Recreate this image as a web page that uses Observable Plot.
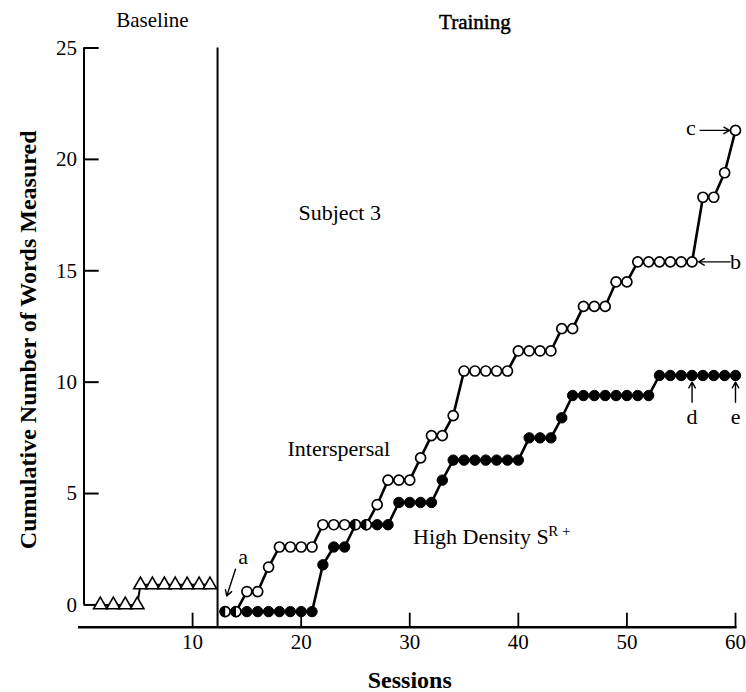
<!DOCTYPE html>
<html>
<head>
<meta charset="utf-8">
<script src="https://cdn.jsdelivr.net/npm/d3@7"></script>
<script src="https://cdn.jsdelivr.net/npm/@observablehq/plot@0.6"></script>
<style>
  body { margin: 0; background: #fff; }
</style>
</head>
<body>
<div id="chart"></div>
<script>
// Baseline phase (open triangles)
const baselineSessions = [1.5, 2.7, 3.8, 4.9, 5.2, 6.3, 7.4, 8.4, 9.5, 10.6, 11.6];
const baselineWords    = [0, 0, 0, 0, 0.9, 0.9, 0.9, 0.9, 0.9, 0.9, 0.9];

// Training phase sessions
const trainingSessions = [13, 14, 15, 16, 17, 18, 19, 20, 21, 22, 23, 24, 25, 26, 27, 28,
  29, 30, 31, 32, 33, 34, 35, 36, 37, 38, 39, 40, 41, 42, 43, 44, 45, 46, 47, 48, 49, 50,
  51, 52, 53, 54, 55, 56, 57, 58, 59, 60];

// Interspersal condition (open circles)
const interspersal = [-0.3, -0.3, 0.6, 0.6, 1.7, 2.6, 2.6, 2.6, 2.6, 3.6, 3.6, 3.6, 3.6, 3.6,
  4.5, 5.6, 5.6, 5.6, 6.6, 7.6, 7.6, 8.5, 10.5, 10.5, 10.5, 10.5, 10.5, 11.4, 11.4, 11.4, 11.4,
  12.4, 12.4, 13.4, 13.4, 13.4, 14.5, 14.5, 15.4, 15.4, 15.4, 15.4, 15.4, 15.4, 18.3, 18.3,
  19.4, 21.3];

// High density SR+ condition (filled circles)
const highDensity = [-0.3, -0.3, -0.3, -0.3, -0.3, -0.3, -0.3, -0.3, -0.3, 1.8, 2.6, 2.6,
  3.6, 3.6, 3.6, 3.6, 4.6, 4.6, 4.6, 4.6, 5.6, 6.5, 6.5, 6.5, 6.5, 6.5, 6.5, 6.5, 7.5, 7.5,
  7.5, 8.4, 9.4, 9.4, 9.4, 9.4, 9.4, 9.4, 9.4, 9.4, 10.3, 10.3, 10.3, 10.3, 10.3, 10.3,
  10.3, 10.3];

const xTicks = [10, 20, 30, 40, 50, 60];
const yTicks = [0, 5, 10, 15, 20, 25];
const phaseChange = 12.3;

const serif = "'Liberation Serif', 'Times New Roman', serif";

const baseline = baselineSessions.map((s, i) => ({session: s, words: baselineWords[i]}));
const openPts = trainingSessions.map((s, i) => ({session: s, words: interspersal[i]}));
const filledPts = trainingSessions.map((s, i) => ({session: s, words: highDensity[i]}));
// sessions where both conditions share a value are drawn half filled
const shared = openPts.filter((d, i) => d.words === highDensity[i]);

// left half of a disc, used for coinciding points
const leftHalf = {
  draw(context, size) {
    const r = Math.sqrt(size / Math.PI);
    context.moveTo(0, -r);
    context.arc(0, 0, r, -Math.PI / 2, Math.PI / 2, true);
    context.closePath();
  }
};

const labelText = (data, opts) => Plot.text(data, {
  fontFamily: serif, fontSize: 22, fill: "black", ...opts
});

const chart = Plot.plot({
  width: 746,
  height: 692,
  marginLeft: 83.5,
  marginRight: 11,
  marginTop: 47.5,
  marginBottom: 65.3,
  style: {fontFamily: serif, fontSize: "21px", background: "white", color: "black"},
  x: {domain: [0, 60]},
  y: {domain: [-1, 25]},
  marks: [
    // axes
    Plot.ruleX([0], {y1: 0, y2: 25, stroke: "black", strokeWidth: 2}),
    Plot.ruleY([-1], {x1: -0.5, x2: 60.15, stroke: "black", strokeWidth: 2.4}),
    Plot.ruleY(yTicks, {x1: 0, x2: 1.4, stroke: "black", strokeWidth: 2}),
    Plot.ruleX(xTicks, {y1: -1, y2: -0.37, stroke: "black", strokeWidth: 1.8}),
    Plot.axisY({ticks: yTicks, tickSize: 0, tickPadding: 7, fontSize: 21, fontFamily: serif, label: null}),
    Plot.axisX({ticks: xTicks, tickSize: 0, tickPadding: 7, fontSize: 21, fontFamily: serif, label: null}),
    // phase change line
    Plot.ruleX([phaseChange], {y1: -1, y2: 25, stroke: "black", strokeWidth: 2}),

    // baseline
    Plot.line(baseline, {x: "session", y: "words", stroke: "black", strokeWidth: 2}),
    Plot.dot(baseline, {x: "session", y: "words", symbol: "triangle", r: 5, fill: "white", stroke: "black", strokeWidth: 1.6}),

    // training series
    Plot.line(openPts, {x: "session", y: "words", stroke: "black", strokeWidth: 2.6}),
    Plot.line(filledPts, {x: "session", y: "words", stroke: "black", strokeWidth: 2.6}),
    Plot.dot(filledPts, {x: "session", y: "words", r: 5.2, fill: "black", stroke: "black", strokeWidth: 1}),
    Plot.dot(openPts, {x: "session", y: "words", r: 5, fill: "white", stroke: "black", strokeWidth: 1.7}),
    Plot.dot(shared, {x: "session", y: "words", r: 5.4, symbol: leftHalf, fill: "black"}),

    // phase titles
    labelText(["Baseline"], {x: 6.3, y: 26.24, fontSize: 21}),
    labelText(["Training"], {x: 36, y: 26.15, fontSize: 21, stroke: "black", strokeWidth: 0.5}),

    // condition labels
    labelText(["Subject 3"], {x: 19.75, y: 17.6, textAnchor: "start"}),
    labelText(["Interspersal"], {x: 18.74, y: 7.0, textAnchor: "start"}),
    labelText(["High Density S"], {x: 30.3, y: 3.03, textAnchor: "start"}),
    labelText(["R +"], {x: 42.75, y: 3.33, textAnchor: "start", fontSize: 15}),

    // letter callouts
    labelText(["a"], {x: 14.66, y: 2.17}),
    labelText(["c"], {x: 55.9, y: 21.4}),
    labelText(["b"], {x: 60.0, y: 15.39}),
    labelText(["d"], {x: 56, y: 8.46}),
    labelText(["e"], {x: 60, y: 8.46}),
    Plot.arrow([
      {x1: 13.95, y1: 1.6, x2: 13.15, y2: 0.4},
      {x1: 56.75, y1: 21.3, x2: 59.45, y2: 21.3},
      {x1: 59.5, y1: 15.4, x2: 56.6, y2: 15.4},
      {x1: 56, y1: 9.1, x2: 56, y2: 10.0},
      {x1: 60, y1: 9.1, x2: 60, y2: 10.0}
    ], {x1: "x1", y1: "y1", x2: "x2", y2: "y2", stroke: "black", strokeWidth: 1.4, headLength: 7}),

    // axis titles
    labelText(["Cumulative Number of Words Measured"], {x: -5.1, y: 11.9, rotate: -90, fontSize: 24, fontWeight: "bold"}),
    labelText(["Sessions"], {x: 30, y: -3.4, fontSize: 24, fontWeight: "bold"})
  ]
});

document.getElementById("chart").appendChild(chart);
</script>
</body>
</html>
